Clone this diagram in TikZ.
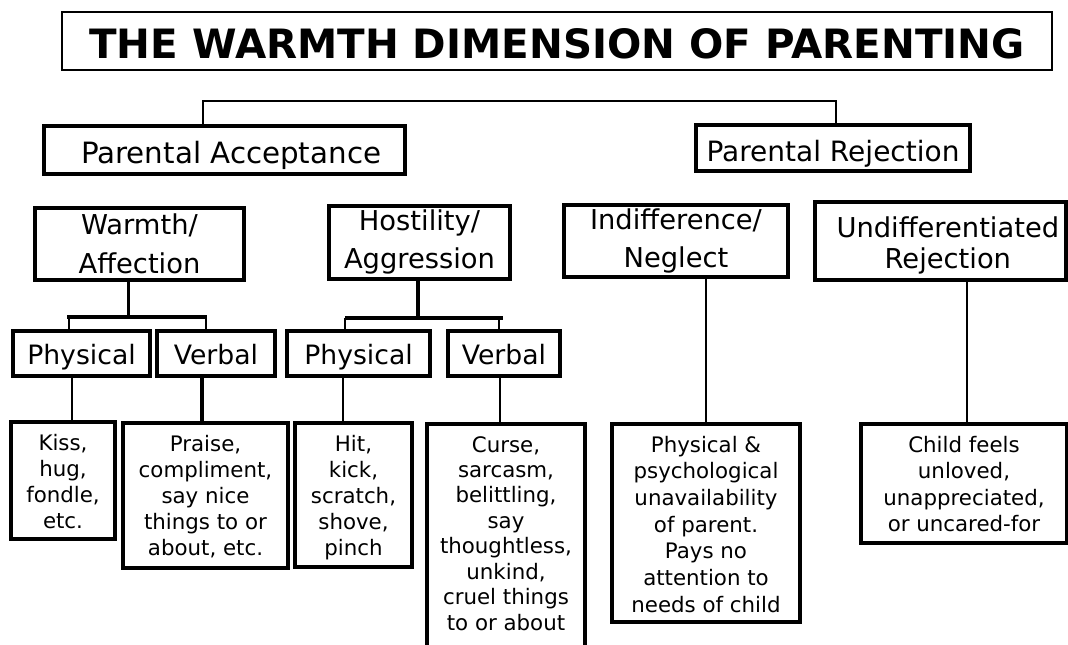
\documentclass[tikz,border=0pt]{standalone}
\usepackage{fontspec}
\setmainfont{DejaVu Sans}
\tikzset{
  box/.style={draw, line width=2.5pt, inner sep=0pt, align=center, text depth=0pt},
  conn/.style={line width=1.6pt},
  bracket/.style={line width=2.5pt},
  ttl/.style={font=\fontsize{30.3}{36}\selectfont\bfseries},
  lvla/.style={font=\fontsize{22}{26}\selectfont},
  lvlc/.style={font=\fontsize{20}{24}\selectfont, text height=17pt},
  body/.style={font=\fontsize{16}{19.5}\selectfont},
}
\begin{document}
\begin{tikzpicture}[x=0.75pt,y=-0.75pt]
\useasboundingbox (0,0) rectangle (1068,644);
\clip (0,0) rectangle (1068,644);
\fill[white] (0,0) rectangle (1068,644);

% title
\node[box, ttl, line width=2pt, text height=25.5pt, minimum width=742.5pt, minimum height=43.5pt] (T) at (557,41) {THE WARMTH DIMENSION OF PARENTING};

% level 1
\node[box, lvla, text height=19.5pt, minimum width=270.75pt, minimum height=36pt] (PA) at (224.5,150) {\hspace{10pt}Parental Acceptance};
\node[box, font=\fontsize{21}{26}\selectfont, text height=19.5pt, minimum width=205.5pt, minimum height=34.5pt] (PR) at (833,148) {Parental Rejection};

% level 2
\node[box, font=\fontsize{20.5}{29.25}\selectfont, text height=43.5pt, minimum width=156.75pt, minimum height=54pt] (W) at (139.5,244) {Warmth/\\Affection};
\node[box, font=\fontsize{20.5}{28.5}\selectfont, text height=38.25pt, minimum width=135.75pt, minimum height=54.75pt] (H) at (419.5,242.5) {Hostility/\\Aggression};
\node[box, font=\fontsize{20.5}{28.5}\selectfont, text height=39pt, minimum width=168pt, minimum height=54pt] (I) at (676,241) {Indifference/\\Neglect};
\node[box, font=\fontsize{20.5}{23.25}\selectfont, text height=40.5pt, minimum width=188.25pt, minimum height=58.5pt] (U) at (940.5,241) {\hspace*{11pt}Undifferentiated\\\hspace*{11pt}Rejection};

% level 3
\node[box, lvlc, minimum width=102.75pt, minimum height=33.75pt] (P1) at (81.5,353.5) {Physical};
\node[box, lvlc, minimum width=88.5pt, minimum height=33.75pt] (V1) at (216,353.5) {Verbal};
\node[box, lvlc, minimum width=107.25pt, minimum height=33.75pt] (P2) at (358.5,353.5) {Physical};
\node[box, lvlc, minimum width=84pt, minimum height=33.75pt] (V2) at (504,353.5) {Verbal};

% level 4
\node[box, body, text height=71.25pt, minimum width=78pt, minimum height=87.75pt] (K) at (63,480.5) {Kiss,\\hug,\\fondle,\\etc.};
\node[box, body, text height=90pt, minimum width=123.75pt, minimum height=108.75pt] (Pr) at (205.5,495.5) {Praise,\\compliment,\\say nice\\things to or\\about, etc.};
\node[box, body, text height=91pt, minimum width=87.75pt, minimum height=108pt] (Hi) at (353.5,495) {Hit,\\kick,\\scratch,\\shove,\\pinch};
\node[box, font=\fontsize{16}{19.07}\selectfont, text height=138pt, minimum width=118.5pt, minimum height=171pt] (C) at (506,538) {Curse,\\sarcasm,\\belittling,\\say\\thoughtless,\\unkind,\\cruel things\\to or about};
\node[box, font=\fontsize{16}{20}\selectfont, text height=133.5pt, minimum width=141pt, minimum height=148.5pt] (PP) at (706,523) {Physical \&\\psychological\\unavailability\\of parent.\\Pays no\\attention to\\needs of child};
\node[box, font=\fontsize{16}{19.85}\selectfont, text height=72.3pt, minimum width=154.5pt, minimum height=89.25pt] (CF) at (964,483.5) {Child feels\\unloved,\\unappreciated,\\or uncared-for};

% top bracket
\coordinate (ta) at (203,101);
\coordinate (tb) at (836,101);
\draw[conn] (PA.north -| ta) -- (ta) -- (tb) -- (PR.north -| tb);

% warmth bracket
\coordinate (wj) at (128.5,317);
\coordinate (wl) at (67,317);
\coordinate (wr) at (207,317);
\coordinate (wa) at (69,317);
\coordinate (wb) at (206,317);
\draw[conn] (W.south -| wj) -- (wj);
\draw[bracket] (wl) -- (wr);
\draw[conn] (wa) -- (P1.north -| wa);
\draw[conn] (wb) -- (V1.north -| wb);

% hostility bracket
\coordinate (hj) at (418,318);
\coordinate (hl) at (345,318);
\coordinate (hr) at (503,318);
\coordinate (ha) at (345,318);
\coordinate (hb) at (499,318);
\draw[bracket] (H.south -| hj) -- (hj);
\draw[bracket] (hl) -- (hr);
\draw[conn] (ha) -- (P2.north -| ha);
\draw[conn] (hb) -- (V2.north -| hb);

% lower connectors
\coordinate (ck) at (72,0);
\coordinate (cp) at (202,0);
\coordinate (ch) at (343,0);
\coordinate (cc) at (500,0);
\coordinate (ci) at (706,0);
\coordinate (cu) at (967,0);
\draw[conn] (P1.south -| ck) -- (K.north -| ck);
\draw[bracket] (V1.south -| cp) -- (Pr.north -| cp);
\draw[conn] (P2.south -| ch) -- (Hi.north -| ch);
\draw[conn] (V2.south -| cc) -- (C.north -| cc);
\draw[conn] (I.south -| ci) -- (PP.north -| ci);
\draw[conn] (U.south -| cu) -- (CF.north -| cu);
\end{tikzpicture}
\end{document}
